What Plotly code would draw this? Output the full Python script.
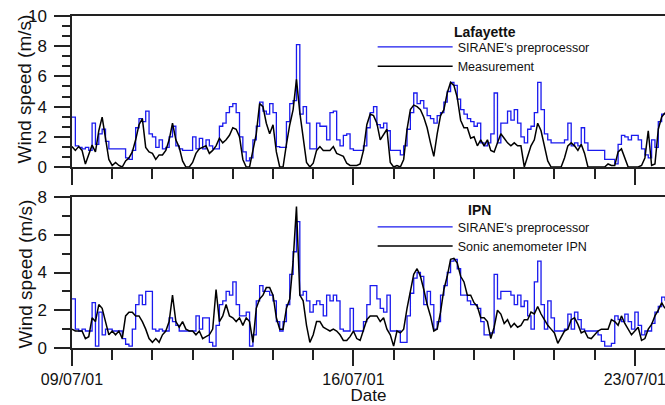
import pandas as pd
import plotly.graph_objects as go

# 2-hourly samples starting 09/07/2001 00:00
start = "2001-07-09 00:00"
n_points = 178

laf_sirane = [
    3.3, 1.4, 1.3, 1.2, 1.3, 1.1, 2.9, 1.5, 2.2, 2.5, 1.7, 1.2,
    1.2, 1.2, 1.2, 1.2, 0.6, 0.5, 1.1, 2.6, 3.2, 3.0, 3.7, 2.2,
    2.0, 1.3, 1.8, 1.2, 1.3, 2.0, 2.7, 1.4, 1.2, 1.1, 1.1, 1.1,
    2.0, 1.2, 1.9, 1.2, 1.8, 1.4, 1.2, 1.2, 2.7, 2.9, 3.6, 4.0,
    4.2, 3.6, 2.0, 1.0, 0.4, 0.6, 1.8, 2.7, 4.3, 3.7, 3.5, 4.2,
    3.6, 1.35, 1.3, 1.3, 3.0, 4.2, 4.4, 8.1, 3.5, 4.0, 2.9, 1.2,
    1.2, 2.9, 2.7, 2.7, 1.8, 3.6, 3.7, 1.8, 1.4, 2.1, 2.2, 1.2,
    1.1, 1.1, 1.1, 1.4, 2.6, 3.6, 4.0, 2.8, 2.6, 2.9, 2.4, 1.1,
    1.1, 1.1, 0.8, 1.4, 2.5, 3.6, 4.9, 4.2, 4.4, 3.9, 3.4, 3.2,
    2.9, 3.4, 3.6, 4.3, 5.0, 5.6, 5.4, 4.5, 3.8, 3.5, 3.2, 3.0,
    2.7, 2.9, 1.6, 1.4, 1.6, 2.2, 4.9, 1.6, 2.9, 2.9, 3.7, 3.1,
    3.8, 2.9, 2.0, 1.6, 2.5, 2.7, 3.6, 5.6, 3.8, 2.2, 1.8, 1.6,
    1.6, 1.6, 1.6, 1.8, 2.9, 1.4, 1.6, 1.4, 2.6, 1.6, 1.1, 1.1,
    1.1, 1.1, 1.1, 0.5, 0.5, 0.5, 0.2, 1.5, 2.1, 2.0, 1.8, 2.1,
    2.1, 1.8, 1.2, 0.8, 0.6, 1.8, 1.3, 3.0, 3.5, 3.5,
]

laf_measure = [
    1.35, 1.1, 1.35, 1.1, 0.2, 0.8, 1.45, 1.0, 2.4, 3.3, 2.0, 0.5,
    0.1, 0.3, 0.1, 0.0, 0.4, 0.6, 1.0, 1.8, 2.8, 3.2, 1.3, 1.0,
    0.9, 0.5, 0.8, 0.8, 1.1, 1.8, 2.9, 1.8, 1.3, 0.4, 0.0, 0.0,
    0.3, 0.9, 1.2, 1.3, 1.4, 0.9, 1.1, 1.4, 1.9, 1.6, 1.8, 2.1,
    2.6, 2.5, 2.0, 0.5, 0.0, 0.0, 1.2, 2.2, 4.2, 4.0, 2.9, 2.2,
    2.8, 1.0, 0.0, 0.0, 1.5, 2.8, 3.8, 5.8, 3.6, 1.9, 0.3, 0.0,
    0.25, 1.1, 1.35, 1.1, 1.1, 1.1, 1.35, 0.9, 0.8, 0.7, 0.25, 0.1,
    0.1, 0.1, 0.2, 1.1, 2.8, 3.5, 3.4, 2.9, 1.8, 2.2, 2.5, 0.3,
    0.0, 0.1, 0.0, 0.5, 2.5, 3.8, 4.1, 4.0, 3.8, 3.3, 2.6, 1.6,
    0.7, 2.2, 3.4, 3.8, 4.9, 5.6, 5.4, 4.6, 3.1, 2.6, 2.6, 1.9,
    2.0, 1.4, 1.8, 1.4, 1.8, 1.1, 1.0, 1.6, 2.2, 1.9, 1.6, 1.4,
    1.6, 1.4, 1.4, 0.0, 0.7, 1.4, 1.8, 2.9, 2.4, 1.4, 0.4, 0.0,
    0.0, 0.0, 0.0, 0.6, 1.4, 1.6, 1.4, 1.1, 1.5, 0.9, 0.0, 0.0,
    0.0, 0.0, 0.0, 0.0, 0.2, 0.1, 0.1, 1.0, 1.2, 0.6, 0.0, 0.0,
    0.0, 0.0, 0.1, 0.6, 2.4, 0.1, 0.2, 2.5, 3.3, 3.6,
]

ipn_sirane = [
    2.6, 1.0, 0.9, 1.0, 0.9, 0.9, 2.4, 0.1, 1.9, 0.7, 1.0, 1.0,
    0.9, 0.9, 0.9, 0.5, 0.2, 0.1, 1.0, 2.3, 2.8, 2.3, 3.0, 3.0,
    1.0, 0.9, 1.0, 0.9, 0.9, 1.6, 1.4, 1.2, 0.9, 0.9, 0.9, 0.9,
    0.9, 1.7, 1.0, 1.6, 1.6, 0.3, 0.1, 1.2, 2.3, 2.5, 3.0, 2.8,
    3.5, 2.3, 1.7, 1.7, 1.9, 0.1, 0.7, 2.5, 3.3, 3.0, 3.0, 2.8,
    2.5, 1.4, 0.9, 1.4, 2.3, 3.9, 5.1, 6.7, 2.8, 3.0, 2.5, 1.9,
    2.3, 2.5, 2.3, 1.7, 2.8, 2.5, 2.8, 2.5, 1.0, 0.9, 0.9, 2.1,
    0.9, 0.9, 0.9, 1.4,
    2.3, 3.3, 3.3, 2.6, 2.1, 1.9, 2.8, 0.9, 0.9, 0.9, 0.3, 0.3,
    1.7, 2.9, 3.7, 4.0, 3.8, 2.3, 3.0, 2.3, 1.0, 1.4, 2.8, 3.3,
    4.0, 4.6, 4.7, 4.2, 2.8, 2.8, 2.5, 2.3, 2.3, 2.1, 1.4, 0.7,
    0.7, 0.8, 3.9, 2.6, 3.0, 3.0, 3.0, 2.8, 2.3, 2.8, 2.2, 2.5,
    1.7, 1.0, 3.5, 4.6, 2.3, 1.0, 2.5, 1.6, 0.9, 0.9, 0.9, 1.0,
    1.8, 1.0, 1.9, 1.5, 1.0, 0.9, 0.9, 0.9, 0.9, 0.7, 0.35, 0.1,
    0.1, 0.25, 1.7, 1.5, 1.4, 1.8, 1.4, 1.0, 1.9, 1.2, 0.7, 0.9,
    0.9, 1.3, 1.9, 2.2, 2.7, 2.5,
]

ipn_sonic = [
    1.0, 0.9, 0.9, 0.9, 0.5, 0.6, 1.6, 1.4, 2.3, 2.1, 1.4, 0.7,
    0.9, 0.7, 0.9, 0.5, 1.7, 1.9, 1.9, 1.7, 1.7, 1.4, 1.0, 0.5,
    0.3, 0.5, 0.3, 0.7, 0.9, 1.4, 2.8, 1.4, 1.1, 1.4, 1.0, 0.9,
    0.9, 0.7, 0.9, 0.5, 0.6, 0.7, 1.0, 3.1, 1.4, 1.7, 2.3, 1.7,
    1.6, 1.4, 1.6, 1.2, 1.6, 1.4, 0.3, 2.1, 2.6, 2.8, 3.2, 3.2,
    2.8, 1.6, 1.0, 1.0, 2.1, 2.6, 4.6, 7.5, 2.8, 2.5, 1.2, 0.3,
    0.7, 1.4, 1.4, 1.1, 1.0, 0.9, 1.0, 0.9, 0.7, 0.4, 0.4, 0.6,
    0.9, 0.5, 0.4, 0.9,
    1.5, 1.7, 1.7, 1.7, 1.4, 1.6, 1.0, 0.7, 0.1, 0.9, 0.8, 1.0,
    2.1, 3.1, 3.9, 4.2, 3.8, 3.1, 2.3, 1.7, 0.9, 1.0, 1.9, 3.1,
    3.8, 4.7, 4.75, 4.5, 3.8, 3.5, 2.8, 2.8, 2.4, 2.2, 1.6, 1.6,
    1.4, 0.5, 1.1, 2.0, 1.8, 1.3, 1.5, 1.1, 1.3, 1.1, 1.2, 1.5,
    1.5, 1.9, 1.8, 2.2, 1.8, 1.5, 1.2, 1.0, 0.8, 0.25, 0.6, 0.9,
    1.0, 1.5, 1.6, 1.25, 0.8, 0.9, 0.55, 0.5, 0.7, 0.9, 1.0, 1.0,
    1.0, 1.5, 1.4, 1.2, 1.7, 1.3, 1.0, 0.7, 0.9, 1.1, 0.4, 0.5,
    1.0, 1.25, 1.7, 2.0, 2.4, 2.1,
]

times = pd.date_range(start, periods=n_points, freq="2h")

FONT = "Liberation Sans, Arial, sans-serif"
BLUE = "#1a1aee"
BLACK = "#000000"
AXC = "#222222"

fig = go.Figure()
fig.add_trace(go.Scatter(x=times, y=laf_sirane, xaxis="x", yaxis="y", mode="lines",
                         line=dict(color=BLUE, width=1.3, shape="hv"),
                         name="SIRANE's preprocessor", legend="legend"))
fig.add_trace(go.Scatter(x=times, y=laf_measure, xaxis="x", yaxis="y", mode="lines",
                         line=dict(color=BLACK, width=1.5),
                         name="Measurement", legend="legend"))
fig.add_trace(go.Scatter(x=times, y=ipn_sirane, xaxis="x2", yaxis="y2", mode="lines",
                         line=dict(color=BLUE, width=1.3, shape="hv"),
                         name="SIRANE's preprocessor", legend="legend2"))
fig.add_trace(go.Scatter(x=times, y=ipn_sonic, xaxis="x2", yaxis="y2", mode="lines",
                         line=dict(color=BLACK, width=1.5),
                         name="Sonic anemometer IPN", legend="legend2"))

DAY = 86400000
xr = ["2001-07-09 00:00", "2001-07-23 18:00"]
xcommon = dict(type="date", range=xr, tick0="2001-07-09", dtick=7 * DAY,
               ticks="outside", ticklen=16, tickwidth=1.5, tickcolor=AXC,
               minor=dict(dtick=DAY, ticks="outside", ticklen=10, tickwidth=1.5, tickcolor=AXC),
               showline=True, mirror=True, linecolor=AXC, linewidth=1.5,
               showgrid=False, zeroline=False)
ycommon = dict(ticks="outside", ticklen=16, tickwidth=1.5, tickcolor=AXC,
               showline=True, linecolor=AXC, linewidth=1.5, showgrid=False, zeroline=False,
               tickfont=dict(size=17), ticklabelstandoff=4)

top_dom = [0.5452, 1.0]
bot_dom = [0.0, 0.4548]

ytitle = "Wind speed (m/s)"
annotations = [
    dict(text=ytitle, textangle=-90, xref="paper", yref="paper",
         x=(25 - 72) / 593, y=(top_dom[0] + top_dom[1]) / 2 + 0.006,
         xanchor="center", yanchor="middle", showarrow=False, font=dict(size=19)),
    dict(text=ytitle, textangle=-90, xref="paper", yref="paper",
         x=(25 - 72) / 593, y=(bot_dom[0] + bot_dom[1]) / 2 - 0.006,
         xanchor="center", yanchor="middle", showarrow=False, font=dict(size=19)),
    dict(text="<b>Lafayette</b>", xref="paper", yref="paper", x=0.6965, y=0.9518,
         xanchor="center", yanchor="middle", showarrow=False, font=dict(size=14)),
    dict(text="<b>IPN</b>", xref="paper", yref="paper", x=0.688, y=0.4157,
         xanchor="center", yanchor="middle", showarrow=False, font=dict(size=14)),
]

fig.update_layout(
    width=665, height=405,
    margin=dict(l=72, r=0, t=16, b=57),
    paper_bgcolor="white", plot_bgcolor="white",
    font=dict(family=FONT, color="#111111", size=16),
    xaxis=dict(xcommon, anchor="y", domain=[0, 1], showticklabels=False),
    xaxis2=dict(xcommon, anchor="y2", domain=[0, 1], showticklabels=True,
                tickformat="%d/%m/%y", tickfont=dict(size=16), ticklabeloverflow="allow",
                title=dict(text="Date", font=dict(size=17), standoff=2)),
    yaxis=dict(ycommon, anchor="x", domain=top_dom, range=[0, 10], dtick=2,
               minor=dict(dtick=2 / 3, ticks="outside", ticklen=8, tickwidth=1.5, tickcolor=AXC)),
    yaxis2=dict(ycommon, anchor="x2", domain=bot_dom, range=[0, 8], dtick=2,
                minor=dict(dtick=1, ticks="outside", ticklen=8, tickwidth=1.5, tickcolor=AXC)),
    yaxis3=dict(overlaying="y", anchor="x", side="right", range=[0, 10], dtick=2,
                ticks="inside", ticklen=8, tickwidth=1.5, tickcolor=AXC,
                minor=dict(dtick=2 / 3, ticks="inside", ticklen=5, tickwidth=1.5, tickcolor=AXC),
                showticklabels=False, showline=False, showgrid=False, zeroline=False),
    yaxis4=dict(overlaying="y2", anchor="x2", side="right", range=[0, 8], dtick=2,
                ticks="inside", ticklen=8, tickwidth=1.5, tickcolor=AXC,
                minor=dict(dtick=1, ticks="inside", ticklen=5, tickwidth=1.5, tickcolor=AXC),
                showticklabels=False, showline=False, showgrid=False, zeroline=False),
    legend=dict(x=0.507, y=0.951, xanchor="left", yanchor="top",
                bgcolor="rgba(0,0,0,0)", font=dict(size=12.5), itemwidth=75,
                tracegroupgap=0),
    legend2=dict(x=0.507, y=0.409, xanchor="left", yanchor="top",
                 bgcolor="rgba(0,0,0,0)", font=dict(size=12.5), itemwidth=75,
                 tracegroupgap=0),
    annotations=annotations,
    showlegend=True,
)

fig.write_html("out.html")
